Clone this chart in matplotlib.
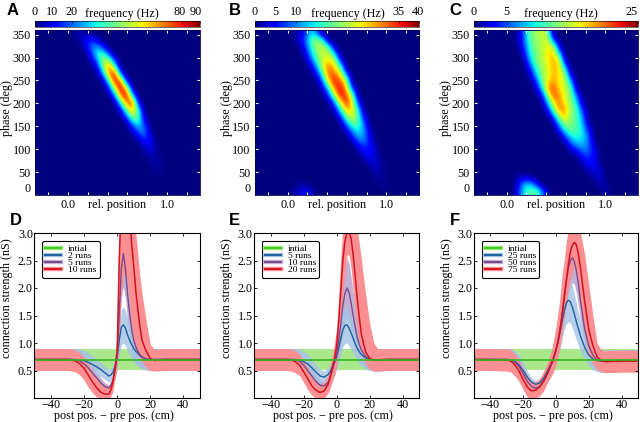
import numpy as np
import matplotlib
matplotlib.use("Agg")
import matplotlib.pyplot as plt
from matplotlib.legend_handler import HandlerTuple
from matplotlib.lines import Line2D
from matplotlib.transforms import ScaledTranslation

plt.rcParams["font.family"] = ["Liberation Serif", "DejaVu Serif"]
plt.rcParams["font.size"] = 8.7

W, H = 640, 422
N_COLS = 28
N_ROWS = 24

# heat maps: first filled column per row (top row first) and the cell values from there, Hz
a_first = [6, 7, 8, 9, 9, 10, 11, 12, 12, 13, 14, 14, 15, 16, 16, 17, 18, 18, 19, 20, 20, 21, 0, 0]
a_cells = [
    [1, 5, 3], [2, 10, 15, 8], [6, 20, 28, 15], [12, 35, 42, 18], [3, 20, 50, 55, 15],
    [6, 40, 75, 50], [18, 65, 88, 25], [30, 82, 80, 12], [8, 50, 88, 65], [20, 70, 88, 30],
    [35, 72, 78, 8], [8, 45, 70, 35], [18, 50, 45, 5], [25, 38, 15], [6, 22, 25, 3],
    [8, 20, 10], [9, 11, 1], [2, 8, 3], [4, 4], [4, 1], [2, 1], [0.5], [], [],
]
b_first = [6, 7, 8, 8, 9, 9, 10, 11, 11, 12, 13, 13, 14, 15, 15, 16, 17, 17, 18, 19, 20, 20, 21, 0]
b_cells = [
    [1, 2, 6, 14, 10], [3, 8, 18, 22, 16], [6, 15, 22, 24, 18, 2], [3, 12, 20, 24, 24, 14],
    [7, 17, 24, 27, 25, 6], [2, 10, 24, 33, 27, 20], [4, 16, 33, 33, 27, 10], [9, 27, 36, 33, 24],
    [3, 14, 32, 38, 28, 8], [7, 22, 36, 35, 20, 1], [10, 26, 36, 26, 6], [3, 15, 30, 27, 14],
    [7, 20, 26, 18, 4], [11, 20, 18, 9], [3, 12, 16, 11, 2], [5, 12, 11, 4], [6, 9, 5, 1],
    [1, 5, 6, 2], [2, 4, 3], [2, 3, 1], [2, 1], [1, 1], [1, 0.5], [],
]
b_low_rows = [22, 23]
b_low_first = [7, 6]
b_low_cells = [[1, 1], [1, 3, 5, 3]]
c_first = [7, 7, 8, 8, 9, 9, 9, 10, 10, 11, 12, 12, 13, 14, 14, 15, 16, 16, 18, 18, 19, 20, 21, 22]
c_cells = [
    [1, 5, 12, 13, 15, 14], [1, 5, 11, 13, 14, 16, 6], [4, 10, 13, 14, 16, 16, 3],
    [2, 9, 12, 14, 16, 18, 10], [7, 12, 14, 16, 18, 17, 2], [3, 10, 13, 15, 18, 17, 9],
    [1, 7, 13, 15, 18, 17, 14, 2], [3, 11, 16, 19, 16, 15, 8], [1, 7, 18, 21, 17, 15, 12, 1],
    [2, 12, 21, 19, 15, 13, 6], [7, 16, 20, 16, 13, 9, 1], [2, 12, 19, 19, 13, 11, 4],
    [5, 14, 18, 13, 11, 7], [8, 14, 13, 11, 8, 1], [3, 10, 12, 11, 9, 4], [4, 9, 10, 9, 6],
    [5, 8, 8, 6, 1], [1, 3, 6, 6, 3], [3, 4, 3], [1, 3, 3, 1], [1, 2, 2], [1, 2], [1, 1], [1],
]
c_low_rows = [21, 22, 23]
c_low_first = [7, 7, 7]
c_low_cells = [[1, 2, 1], [2, 8, 9, 5], [3, 9, 11, 12, 8, 1]]

heat_vmax = [90, 40, 25]
cbar_ticks = [[0, 10, 20, 80, 90], [0, 5, 10, 35, 40], [0, 5, 25]]

# connection strength profiles
pos = [-50, -40, -30, -27.5, -25, -22.5, -20, -17.5, -15, -12.5, -10, -7.5, -5, -3.75, -2.5, -1.25, 0,
       1.25, 2.5, 3.75, 5, 6.25, 7.5, 8.75, 10, 11.25, 12.5, 13.75, 15, 17.5, 20, 22.5, 25, 27.5, 30, 40, 50]
initial_mean = [0.7] * len(pos)
initial_sd = [0.2] * len(pos)

d_blue = [.7, .7, .7, .7, .7, .69, .68, .65, .61, .57, .52, .46, .40, .42, .47, .58, .75,
          1.05, 1.28, 1.33, 1.27, 1.15, 1.05, .97, .90, .85, .81, .77, .74, .71, .70, .70, .70, .70, .70, .70, .70]
d_purple = [.7, .7, .7, .7, .69, .67, .62, .55, .46, .37, .28, .21, .18, .23, .32, .50, .75,
            1.5, 2.35, 2.63, 2.35, 1.9, 1.55, 1.25, 1.05, .93, .85, .79, .75, .71, .70, .7, .7, .7, .7, .7, .7]
d_red = [.7, .7, .7, .69, .67, .62, .54, .42, .30, .19, .11, .07, .07, .15, .30, .55, .85,
         2.5, 3.6, 4.0, 4.1, 3.9, 3.35, 2.8, 2.4, 1.95, 1.6, 1.3, 1.05, .85, .72, .68, .69, .7, .7, .7, .7]
d_blue_sd = [.2, .2, .2, .2, .2, .2, .19, .18, .16, .15, .13, .12, .11, .12, .13, .15, .2,
             .27, .32, .33, .32, .3, .28, .26, .25, .23, .22, .21, .21, .2, .2, .2, .2, .2, .2, .2, .2]
d_purple_sd = [.2, .2, .2, .2, .2, .19, .17, .15, .13, .11, .09, .07, .06, .08, .11, .15, .22,
               .4, .55, .6, .55, .48, .42, .36, .31, .27, .25, .23, .22, .2, .2, .2, .2, .2, .2, .2, .2]
d_red_sd = [.2, .2, .2, .2, .2, .2, .2, .2, .2, .2, .18, .15, .15, .15, .17, .2, .3,
            .6, 1.0, 1.4, 1.7, 1.7, 1.45, 1.15, 1.0, 1.05, 1.0, .9, .85, .55, .25, .2, .2, .2, .2, .2, .2]
d_red_low = [.5, .5, .5, .49, .47, .42, .33, .2, .1, .02, 0, 0, 0, .03, .13, .35, .55,
             1.0, 1.9, 2.2, 2.3, 2.1, 1.75, 1.3, 1.05, .9, .8, .72, .66, .55, .5, .49, .49, .5, .5, .5, .5]

e_blue = [.7, .7, .7, .7, .7, .69, .66, .62, .55, .47, .40, .38, .43, .49, .57, .65, .75,
          .90, 1.08, 1.24, 1.32, 1.33, 1.27, 1.18, 1.08, .98, .90, .84, .79, .73, .70, .69, .69, .69, .7, .7, .7]
e_purple = [.7, .7, .7, .7, .69, .67, .60, .50, .40, .30, .23, .22, .29, .39, .52, .65, .80,
            1.05, 1.35, 1.68, 1.90, 2.0, 1.92, 1.72, 1.50, 1.28, 1.10, .97, .87, .76, .71, .69, .69, .69, .7, .7, .7]
e_red = [.7, .7, .7, .69, .66, .60, .48, .35, .22, .14, .10, .13, .26, .40, .56, .72, .95,
         1.4, 1.95, 2.5, 2.85, 3.0, 3.02, 2.9, 2.6, 2.2, 1.8, 1.45, 1.15, .84, .72, .69, .69, .7, .7, .7, .7]
e_blue_sd = [.2, .2, .2, .2, .2, .2, .19, .18, .16, .14, .12, .11, .12, .14, .17, .2, .22,
             .25, .28, .31, .33, .33, .32, .3, .28, .25, .23, .22, .21, .2, .2, .2, .2, .2, .2, .2, .2]
e_purple_sd = [.2, .2, .2, .2, .2, .19, .17, .15, .13, .11, .09, .09, .1, .13, .18, .22, .28,
               .35, .42, .48, .5, .55, .52, .48, .42, .37, .32, .28, .24, .21, .2, .2, .2, .2, .2, .2, .2]
e_red_sd = [.2, .2, .2, .2, .2, .2, .2, .19, .17, .15, .15, .15, .17, .2, .25, .3, .3,
            .45, .6, .6, .5, .4, .4, .45, .6, .8, 1.25, 1.35, 1.35, 1.05, .63, .31, .2, .2, .2, .2, .2]
e_red_low = [.5, .5, .5, .49, .46, .41, .29, .15, .05, 0, 0, 0, .1, .2, .31, .42, .6,
             .9, 1.35, 1.9, 2.3, 2.6, 2.6, 2.35, 1.95, 1.55, 1.25, 1.0, .85, .62, .52, .49, .49, .5, .5, .5, .5]

f_blue = [.7, .7, .7, .69, .66, .6, .5, .38, .29, .25, .27, .36, .5, .58, .66, .75, .87,
          1.02, 1.2, 1.4, 1.58, 1.72, 1.78, 1.75, 1.65, 1.52, 1.38, 1.25, 1.12, .92, .78, .71, .68, .67, .67, .68, .68]
f_purple = [.7, .7, .7, .69, .65, .57, .44, .3, .21, .18, .21, .3, .45, .54, .63, .74, .87,
            1.03, 1.25, 1.52, 1.82, 2.12, 2.36, 2.5, 2.55, 2.48, 2.3, 2.05, 1.75, 1.25, .95, .78, .69, .67, .67, .68, .68]
f_red = [.7, .7, .69, .67, .6, .49, .33, .2, .13, .14, .2, .31, .47, .56, .65, .75, .88,
         1.03, 1.25, 1.52, 1.82, 2.12, 2.42, 2.66, 2.78, 2.83, 2.78, 2.6, 2.35, 1.75, 1.25, .95, .75, .68, .66, .67, .67]
f_blue_sd = [.2, .2, .2, .2, .19, .18, .15, .11, .08, .07, .08, .1, .13, .15, .17, .19, .22,
             .25, .28, .31, .34, .37, .39, .39, .38, .36, .33, .3, .27, .22, .2, .2, .2, .2, .2, .2, .2]
f_purple_sd = [.2, .2, .2, .2, .2, .18, .15, .11, .08, .08, .1, .13, .16, .18, .2, .22, .25,
               .28, .32, .36, .4, .44, .46, .46, .45, .42, .4, .38, .34, .28, .22, .2, .2, .2, .2, .2, .2]
f_red_sd = [.2, .2, .2, .2, .2, .2, .2, .2, .17, .15, .15, .18, .2, .22, .25, .35, .42,
            .52, .6, .73, .68, .73, .63, .5, .42, .37, .42, .55, .65, .85, .8, .55, .25, .2, .2, .2, .2]
f_red_low = [.5, .5, .49, .47, .4, .3, .15, .02, 0, 0, .04, .13, .3, .36, .42, .5, .6,
             .75, .95, 1.2, 1.45, 1.7, 1.95, 2.15, 2.3, 2.4, 2.3, 2.05, 1.7, 1.15, .8, .62, .52, .48, .46, .47, .47]

run_labels = [["2 runs", "5 runs", "10 runs"], ["5 runs", "10 runs", "20 runs"], ["25 runs", "50 runs", "75 runs"]]

GREEN_BAND, GREEN_LINE = "#aae88e", "#35b51c"
BLUE_BAND, BLUE_LINE = "#a3c3e6", "#1f5f9f"
PURPLE_BAND, PURPLE_LINE = "#c2b0d2", "#7a4a8c"
RED_BAND, RED_LINE = "#fb8f92", "#d3121f"


def px_axes(fig, left, top, right, bottom):
    return fig.add_axes([left / W, 1 - bottom / H, (right - left) / W, (bottom - top) / H])


def build_grid(first, cells, low_rows=(), low_first=(), low_cells=()):
    grid = np.zeros((N_ROWS, N_COLS))
    for r, (k, vals) in enumerate(zip(first, cells)):
        grid[r, k:k + len(vals)] = vals
    for r, k, vals in zip(low_rows, low_first, low_cells):
        grid[r, k:k + len(vals)] = vals
    return grid


def plot_heat(fig, left, right, grid, vmax, ticks, title_x, label_shift):
    ax = px_axes(fig, left, 30, right, 195)
    im = ax.imshow(grid, extent=[-1 / 3, 4 / 3, 0, 360], origin="upper", cmap="jet",
                   vmin=0, vmax=vmax, aspect="auto", interpolation="bicubic")
    ax.set_xticks([-0.2, 0, 0.2, 0.4, 0.6, 0.8, 1.0, 1.2])
    ax.set_xticklabels(["", "0.0", "", "", "", "", "1.0", ""])
    ax.set_yticks(range(0, 351, 50))
    ax.tick_params(direction="in", top=True, right=True, color="white", length=2, width=0.8, pad=3)
    ax.get_yticklabels()[0].set_va("bottom")
    ax.set_xlabel("rel. position")
    ax.xaxis.set_label_coords(0.5, -0.025, transform=ax.transAxes)
    ax.xaxis.label.set_va("top")
    fig.text((left - 28) / W, 1 - 108 / H, "phase (deg)", rotation=90, ha="center", va="center")
    for s in ax.spines.values():
        s.set_color("#00005a")
        s.set_linewidth(0.6)

    cax = px_axes(fig, left, 21, right, 27)
    cb = fig.colorbar(im, cax=cax, orientation="horizontal", ticks=ticks)
    cax.xaxis.set_ticks_position("top")
    cax.tick_params(length=1.5, width=0.5, direction="in", pad=2)
    cb.outline.set_linewidth(0.4)
    # the end labels sit a little inside their ticks in the original
    for lab, dx in zip(cax.get_xticklabels(), label_shift):
        lab.set_transform(lab.get_transform() + ScaledTranslation(dx / 100, 0, fig.dpi_scale_trans))
    fig.text(title_x / W, 1 - 14 / H, "frequency (Hz)", ha="center", va="center")


def plot_profile(fig, left, right, series, labels):
    ax = px_axes(fig, left, 233, right, 398)
    blue, blue_sd, purple, purple_sd, red, red_sd, red_low = [np.array(s) for s in series]
    x = np.array(pos)
    m0, s0 = np.array(initial_mean), np.array(initial_sd)

    ax.fill_between(x, m0 - s0, m0 + s0, color=GREEN_BAND, lw=0)
    ax.fill_between(x, purple - purple_sd, purple + purple_sd, color=PURPLE_BAND, lw=0)
    ax.fill_between(x, blue - blue_sd, blue + blue_sd, color=BLUE_BAND, lw=0, alpha=0.8)
    ax.fill_between(x, red_low, red + red_sd, color=RED_BAND, lw=0)
    ax.plot(x, blue, color=BLUE_LINE, lw=1)
    ax.plot(x, purple, color=PURPLE_LINE, lw=1)
    ax.plot(x, red, color=RED_LINE, lw=1.1)
    ax.plot(x, m0, color=GREEN_LINE, lw=1.2)

    ax.set_xlim(-50, 50)
    ax.set_ylim(0, 3)
    ax.set_xticks(range(-40, 41, 20))
    ax.set_yticks([0.5, 1.0, 1.5, 2.0, 2.5, 3.0])
    ax.tick_params(direction="in", top=True, right=True, length=2.5, width=0.6, pad=1)
    ax.set_xlabel("post pos. \u2212 pre pos. (cm)")
    ax.xaxis.set_label_coords(0.48, -0.112, transform=ax.transAxes)
    ax.xaxis.label.set_va("center")
    fig.text((left - 27) / W, 1 - 298 / H, "connection strength (nS)", rotation=90, ha="center", va="center")
    for s in ax.spines.values():
        s.set_linewidth(0.8)

    handles = [
        (Line2D([], [], color=GREEN_BAND, lw=3.2), Line2D([], [], color="#3fd022", lw=1.6)),
        (Line2D([], [], color=BLUE_BAND, lw=3.2), Line2D([], [], color=BLUE_LINE, lw=1.4)),
        (Line2D([], [], color=PURPLE_BAND, lw=3.2), Line2D([], [], color=PURPLE_LINE, lw=1.4)),
        (Line2D([], [], color=RED_BAND, lw=3.2), Line2D([], [], color=RED_LINE, lw=1.4)),
    ]
    leg = ax.legend(handles, ["intial"] + labels, handler_map={tuple: HandlerTuple(ndivide=1, pad=0)},
                    loc="upper left", bbox_to_anchor=(0.046, 0.952), borderaxespad=0, fontsize=6.8,
                    labelspacing=-0.15, handlelength=1.7, handletextpad=0.7, borderpad=0.35,
                    fancybox=True, framealpha=1, edgecolor="black")
    leg.get_frame().set_linewidth(0.8)


fig = plt.figure(figsize=(W / 100, H / 100), dpi=100)

heat_left = [35, 254.7, 474]
heat_right = [200, 419.3, 638]
title_centres = [122, 347.5, 561]
label_shifts = [[0, -1, 0, -2, -4], [0, 0, 0, 0, -1.5], [0, 0, -7]]
grids = [
    build_grid(a_first, a_cells),
    build_grid(b_first, b_cells, b_low_rows, b_low_first, b_low_cells),
    build_grid(c_first, c_cells, c_low_rows, c_low_first, c_low_cells),
]
for i in range(3):
    plot_heat(fig, heat_left[i], heat_right[i], grids[i], heat_vmax[i], cbar_ticks[i],
              title_centres[i], label_shifts[i])

profiles = [
    (d_blue, d_blue_sd, d_purple, d_purple_sd, d_red, d_red_sd, d_red_low),
    (e_blue, e_blue_sd, e_purple, e_purple_sd, e_red, e_red_sd, e_red_low),
    (f_blue, f_blue_sd, f_purple, f_purple_sd, f_red, f_red_sd, f_red_low),
]
line_left = [34.3, 254, 474]
for i in range(3):
    plot_profile(fig, line_left[i], heat_right[i], profiles[i], run_labels[i])

letters = ["A", "B", "C", "D", "E", "F"]
letter_x = [7, 229, 449.5, 9.5, 229, 449.5]
letter_y = [15, 15, 15, 225, 225, 225]
for s, lx, ly in zip(letters, letter_x, letter_y):
    fig.text(lx / W, 1 - ly / H, s, fontsize=12, fontweight="bold", family="Liberation Sans",
             ha="left", va="baseline")

fig.savefig("out.png", dpi=100)
